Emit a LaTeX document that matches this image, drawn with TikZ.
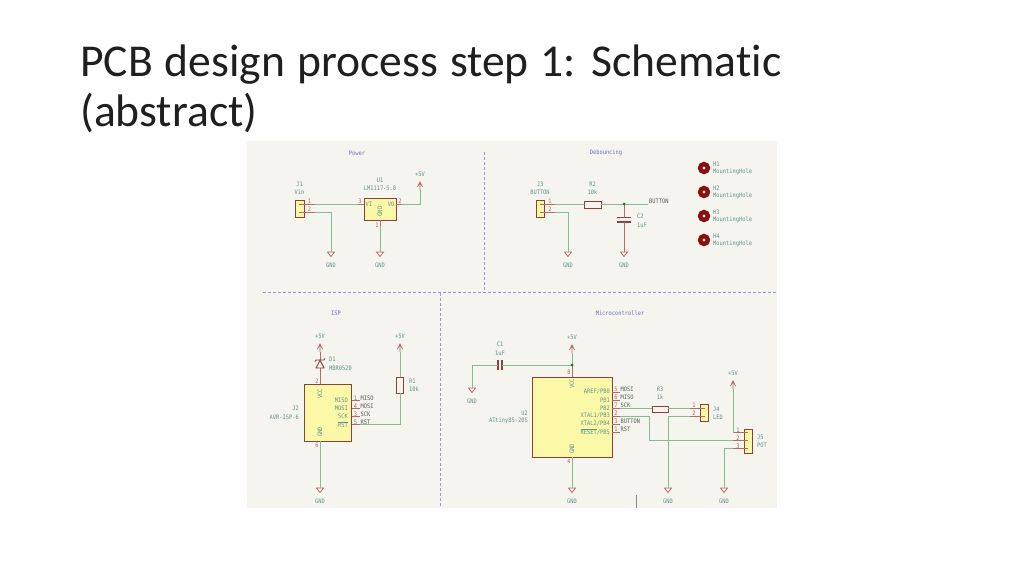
\documentclass[tikz,border=0pt]{standalone}
\usepackage{fontspec}
\setmainfont{Carlito}[Ligatures=NoCommon]
\newfontfamily\kifont[FakeStretch=0.88]{DejaVu Sans Mono}
\usetikzlibrary{calc}

\definecolor{kibg}{HTML}{F5F4EE}
\definecolor{kigreen}{HTML}{86BC90}
\definecolor{kired}{HTML}{B56A6A}
\definecolor{kibox}{HTML}{8E3F3A}
\definecolor{kiyellow}{HTML}{FBF9A8}
\definecolor{kiteal}{HTML}{5F938F}
\definecolor{kiblue}{HTML}{6E6EC4}
\definecolor{kinet}{HTML}{555E5A}
\definecolor{kihole}{HTML}{8A0F0F}

\newcommand{\titlefont}{\fontsize{45.6}{50}\selectfont\setlength{\spaceskip}{12pt}}

\tikzset{
    wire/.style={draw=kigreen, line width=0.9pt},
    pinline/.style={draw=kired, line width=0.8pt},
    part/.style={draw=kibox, fill=kiyellow, line width=1pt},
    plate/.style={draw=kibox, line width=1.2pt},
    border/.style={draw=kiblue!70, line width=0.6pt, densely dashed},
    reftxt/.style={font=\fontsize{6.1}{7}\kifont, text=kiteal, inner sep=0pt},
    pintxt/.style={font=\fontsize{6.1}{7}\kifont, text=kired, inner sep=0pt},
    nettxt/.style={font=\fontsize{6.1}{7}\kifont, text=kinet, inner sep=0pt},
    sectxt/.style={font=\fontsize{6.1}{7}\kifont, text=kiblue, inner sep=0pt}
}

% ground symbol with its label, #1 is the name of the point
\newcommand{\gndsym}[3]{
    \coordinate (#1) at (#2,#3);
    \draw[pinline] (#2-3.5,#3) -- (#2+3.5,#3) -- (#2,#3+4.5) -- cycle;
    \node[reftxt] (#1txt) at (#2,#3+13) {GND};
}
% supply symbol with its label, #3 is the height of the tip
\newcommand{\vccsym}[3]{
    \coordinate (#1) at (#2,#3+8);
    \draw[pinline] (#2,#3+8) -- (#2,#3) (#2-2.5,#3+5) -- (#2,#3) -- (#2+2.5,#3+5);
    \node[reftxt] (#1txt) at (#2,#3-8) {+5V};
}

\begin{document}
\begin{tikzpicture}[x=1pt,y=-1pt]
    \useasboundingbox (0,0) rectangle (1024,576);
    \fill[white] (0,0) rectangle (1024,576);

    % Title
    \node[anchor=base west, inner sep=0pt, align=left, text=black!88,
          font=\titlefont] (title) at (80,126)
        {PCB design process step 1: Schematic\\(abstract)};

    % Sheet and section borders
    \fill[kibg] (247,141) rectangle (777,508);
    \coordinate (bordtop) at (484.5,152);
    \coordinate (bordmid) at (484.5,292.5);
    \coordinate (bordleft) at (263,292.5);
    \coordinate (bordright) at (776,292.5);
    \coordinate (bordsplit) at (440,292.5);
    \coordinate (bordlow) at (440,507);
    \draw[border] (bordtop) -- (bordmid);
    \draw[border] (bordleft) -- (bordright);
    \draw[border] (bordsplit) -- (bordlow);
    \draw[black!45, line width=0.4pt] (636.5,495) -- (636.5,508);

    \node[sectxt] (secpower) at (357,153) {Power};
    \node[sectxt] (secdeb) at (606,153) {Debouncing};
    \node[sectxt] (secisp) at (336,313) {ISP};
    \node[sectxt] (secmcu) at (620,313) {Microcontroller};

    % Power section
    \draw[part] (295,200) rectangle (304,217);
    \draw[pinline] (299,204) -- (315,204);
    \draw[pinline] (299,212) -- (315,212);
    \node[pintxt] (j1n1) at (309.5,201.5) {1};
    \node[pintxt] (j1n2) at (309.5,209.5) {2};
    \node[reftxt] (j1ref) at (299.5,184) {J1};
    \node[reftxt] (j1val) at (299.5,192) {Vin};
    \coordinate (j1a) at (315,204);
    \coordinate (j1b) at (315,212);
    \coordinate (j1corner) at (331,212);
    \gndsym{j1gnd}{331}{252}

    \draw[part] (364,198) rectangle (396,220);
    \node[reftxt] (u1ref) at (380,180) {U1};
    \node[reftxt] (u1val) at (380,188) {LM1117-5.0};
    \node[reftxt, anchor=west] (u1vi) at (365.5,204) {VI};
    \node[reftxt, anchor=east] (u1vo) at (394.5,204) {VO};
    \node[reftxt, rotate=90] (u1g) at (380,211.5) {GND};
    \node[pintxt] (u1n3) at (360,201.5) {3};
    \node[pintxt] (u1n2) at (400,201.5) {2};
    \node[pintxt] (u1n1) at (377,225) {1};
    \coordinate (u1in) at (358,204);
    \coordinate (u1out) at (402,204);
    \coordinate (u1low) at (380,226);
    \coordinate (u1corner) at (420,204);
    \draw[pinline] (u1in) -- (364,204);
    \draw[pinline] (396,204) -- (u1out);
    \draw[pinline] (380,220) -- (u1low);
    \vccsym{u1vcc}{420}{182}
    \gndsym{u1gnd}{380}{252}

    \draw[wire] (j1a) -- (u1in);
    \draw[wire] (j1b) -- (j1corner) -- (j1gnd);
    \draw[wire] (u1out) -- (u1corner) -- (u1vcc);
    \draw[wire] (u1low) -- (u1gnd);

    % Debouncing section
    \draw[part] (536,200) rectangle (544,217);
    \draw[pinline] (540,204) -- (555,204);
    \draw[pinline] (540,212) -- (555,212);
    \node[pintxt] (j3n1) at (550,201.5) {1};
    \node[pintxt] (j3n2) at (550,209.5) {2};
    \node[reftxt] (j3ref) at (540,184) {J3};
    \node[reftxt] (j3val) at (540,192) {BUTTON};
    \coordinate (j3a) at (555,204);
    \coordinate (j3b) at (555,212);
    \coordinate (j3corner) at (568,212);
    \gndsym{j3gnd}{568}{252}

    \draw[part, fill=none] (584,201) rectangle (601,208);
    \node[reftxt] (r2ref) at (592.5,184) {R2};
    \node[reftxt] (r2val) at (592.5,192) {10k};
    \coordinate (r2l) at (584,204);
    \coordinate (r2r) at (601,204);
    \coordinate (r2dot) at (624,204);
    \coordinate (btnend) at (648,204);
    \node[nettxt, anchor=west] (btnnet) at (649,201) {BUTTON};

    \draw[plate] (617,217.5) -- (631,217.5);
    \draw[plate] (617,222) -- (631,222);
    \node[reftxt, anchor=west] (c2ref) at (637,216) {C2};
    \node[reftxt, anchor=west] (c2val) at (637,225) {1uF};
    \coordinate (c2top) at (624,217.5);
    \coordinate (c2low) at (624,222);
    \gndsym{c2gnd}{624}{252}

    \draw[wire] (j3a) -- (r2l);
    \draw[wire] (r2r) -- (btnend);
    \draw[wire] (j3b) -- (j3corner) -- (j3gnd);
    \draw[pinline] (r2dot) -- (c2top);
    \draw[pinline] (c2low) -- (c2gnd);
    \fill[green!50!black] (r2dot) circle (1.5);

    % Mounting holes
    \foreach \hnum/\hy in {1/168, 2/192, 3/216, 4/240} {
        \draw[kihole, line width=4.4pt] (704,\hy) circle (3.9);
        \node[reftxt, anchor=west] (h\hnum ref) at (713,\hy-4) {H\hnum};
        \node[reftxt, anchor=west] (h\hnum val) at (713,\hy+4) {MountingHole};
    }

    % ISP section
    \draw[part] (304,384) rectangle (351.5,441);
    \node[reftxt, anchor=east] (j2ref) at (299,408) {J2};
    \node[reftxt, anchor=east] (j2val) at (299,417) {AVR-ISP-6};
    \node[reftxt, rotate=90] (j2vcc) at (320,394) {VCC};
    \node[reftxt, rotate=90] (j2g) at (320,432) {GND};
    \node[pintxt] (j2n2) at (317,381) {2};
    \node[pintxt] (j2n6) at (317,445) {6};
    \foreach \py/\pname/\pnum/\pnet in {400.7/MISO/1/MISO, 408.7/MOSI/4/MOSI, 416.7/SCK/3/SCK, 424.7/{$\overline{\hbox{RST}}$}/5/RST} {
        \draw[pinline] (351.5,\py) -- (360,\py);
        \node[reftxt, anchor=east] (j2in\pnum) at (348,\py) {\pname};
        \node[pintxt] (j2n\pnum) at (355.5,\py-2.7) {\pnum};
        \node[nettxt, anchor=west] (j2net\pnum) at (360.5,\py-2.8) {\pnet};
    }
    \coordinate (j2rst) at (360,424.7);
    \coordinate (r1low) at (400,424.7);
    \coordinate (r1bot) at (400,393);
    \coordinate (r1top) at (400,377);
    \coordinate (j2top) at (320,384);
    \coordinate (j2bot) at (320,441);
    \draw[part, fill=none] (396.7,377) rectangle (403.3,393);
    \node[reftxt, anchor=west] (r1ref) at (409,381) {R1};
    \node[reftxt, anchor=west] (r1val) at (409,389) {10k};
    \vccsym{r1vcc}{400}{344}
    \vccsym{d1vcc}{320}{344}
    \gndsym{j2gnd}{320}{488}

    % the diode sits on the supply line of J2
    \draw[pinline] (d1vcc) -- (320,359.5);
    \draw[pinline] (320,368) -- (j2top);
    \draw[plate, line width=0.9pt] (316,368) -- (324,368) -- (320,360) -- cycle;
    \draw[plate, line width=0.9pt] (315,361.5) -- (316,360) -- (324,360) -- (325,358.5);
    \node[reftxt, anchor=west] (d1ref) at (329,359) {D1};
    \node[reftxt, anchor=west] (d1val) at (329,368) {MBR0520};

    \draw[wire] (j2rst) -- (r1low) -- (r1bot);
    \draw[wire] (r1top) -- (r1vcc);
    \draw[wire] (j2bot) -- (j2gnd);

    % Microcontroller section
    \draw[part] (532,377) rectangle (612,457);
    \node[reftxt, anchor=east] (u2ref) at (528,413) {U2};
    \node[reftxt, anchor=east] (u2val) at (528,421) {ATtiny85-20S};
    \node[reftxt, rotate=90] (u2vcc) at (572,384) {VCC};
    \node[reftxt, rotate=90] (u2g) at (572,449) {GND};
    \node[pintxt] (u2n8) at (569,372) {8};
    \node[pintxt] (u2n4) at (569,461) {4};
    \foreach \py/\pname/\pnum/\pnet in {392/AREF\slash PB0/5/MOSI, 400/PB1/6/MISO, 408/PB2/7/SCK, 416/XTAL1\slash PB3/2/{}, 424/XTAL2\slash PB4/3/BUTTON, 432/{$\overline{\hbox{RESET}}$\slash PB5}/1/RST} {
        \draw[pinline] (612,\py) -- (620,\py);
        \node[reftxt, anchor=east] (u2in\pnum) at (610,\py) {\pname};
        \node[pintxt] (u2n\pnum) at (616,\py-2.7) {\pnum};
        \node[nettxt, anchor=west] (u2net\pnum) at (620.5,\py-2.8) {\pnet};
    }
    \coordinate (u2dot) at (572,365);
    \coordinate (u2top) at (572,377);
    \coordinate (u2bot) at (572,457);
    \vccsym{u2sup}{572}{345}
    \gndsym{u2gnd}{572}{488}

    \coordinate (c1r) at (502,365);
    \coordinate (c1l) at (498,365);
    \coordinate (c1corner) at (472,365);
    \draw[plate] (498,360) -- (498,369.5);
    \draw[plate] (502,360) -- (502,369.5);
    \node[reftxt] (c1ref) at (500,344) {C1};
    \node[reftxt] (c1val) at (500,353) {1uF};
    \gndsym{c1gnd}{472}{388}

    \draw[wire] (u2sup) -- (u2dot);
    \draw[pinline] (u2dot) -- (u2top);
    \draw[wire] (u2dot) -- (c1r);
    \draw[wire] (c1l) -- (c1corner) -- (c1gnd);
    \draw[wire] (u2bot) -- (u2gnd);
    \fill[green!50!black] (u2dot) circle (1.5);

    % LED header and resistor
    \draw[part, fill=none] (652,406) rectangle (668,412);
    \node[reftxt] (r3ref) at (660,389) {R3};
    \node[reftxt] (r3val) at (660,397) {1k};
    \draw[part] (700.5,404) rectangle (708,421);
    \draw[pinline] (690,408) -- (704.5,408);
    \draw[pinline] (690,416) -- (704.5,416);
    \node[pintxt] (j4n1) at (694,405.5) {1};
    \node[pintxt] (j4n2) at (694,413.5) {2};
    \node[reftxt, anchor=west] (j4ref) at (713,409) {J4};
    \node[reftxt, anchor=west] (j4val) at (713,417) {LED};
    \coordinate (u2sck) at (620,408);
    \coordinate (r3l) at (652,408);
    \coordinate (r3r) at (668,408);
    \coordinate (j4a) at (690,408);
    \coordinate (j4b) at (690,416);
    \coordinate (j4corner) at (668,416);
    \gndsym{j4gnd}{668}{488}

    % POT header
    \draw[part] (744,429) rectangle (752,453);
    \draw[pinline] (733,432.5) -- (748,432.5);
    \draw[pinline] (733,440.5) -- (748,440.5);
    \draw[pinline] (733,448.5) -- (748,448.5);
    \node[pintxt] (j5n1) at (738,430) {1};
    \node[pintxt] (j5n2) at (738,438) {2};
    \node[pintxt] (j5n3) at (738,446) {3};
    \node[reftxt, anchor=west] (j5ref) at (757,437) {J5};
    \node[reftxt, anchor=west] (j5val) at (757,445) {POT};
    \coordinate (j5a) at (733,432.5);
    \coordinate (j5b) at (733,440.5);
    \coordinate (j5c) at (733,448.5);
    \coordinate (j5corner) at (724,448.5);
    \coordinate (u2xtal) at (620,416);
    \coordinate (potup) at (649,416);
    \coordinate (potlow) at (649,440.5);
    \vccsym{j5vcc}{733}{381}
    \gndsym{j5gnd}{724}{488}

    \draw[wire] (u2sck) -- (r3l);
    \draw[wire] (r3r) -- (j4a);
    \draw[wire] (j4b) -- (j4corner) -- (j4gnd);
    \draw[wire] (u2xtal) -- (potup) -- (potlow) -- (j5b);
    \draw[wire] (j5a) -- (j5vcc);
    \draw[wire] (j5c) -- (j5corner) -- (j5gnd);

\end{tikzpicture}
\end{document}
